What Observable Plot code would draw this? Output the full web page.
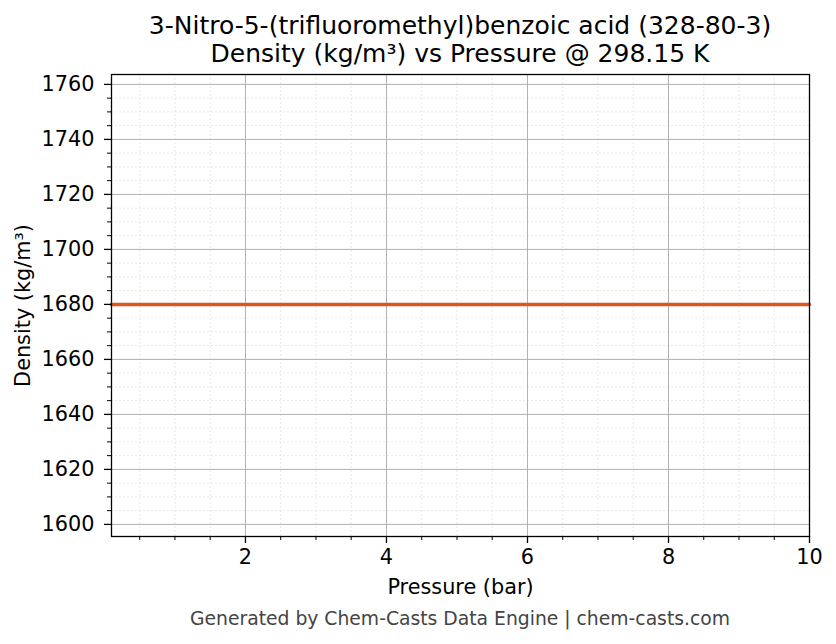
<!DOCTYPE html>
<html>
<head>
<meta charset="utf-8">
<script src="https://cdn.jsdelivr.net/npm/d3@7"></script>
<script src="https://cdn.jsdelivr.net/npm/@observablehq/plot@0.6"></script>
<style>
  html, body { margin: 0; padding: 0; background: #fff; }
  body { width: 836px; height: 644px; overflow: hidden; font-family: "DejaVu Sans", sans-serif; }
  #title { height: 70px; text-align: center; font-size: 25px; line-height: 28px; padding-top: 12px; box-sizing: border-box; color: #000; padding-left: 84px; }
  #caption { text-align: center; font-size: 18.75px; color: #444; padding-left: 84px; margin-top: 6px; }
  svg { display: block; }
</style>
</head>
<body>
<div id="title">3-Nitro-5-(trifluoromethyl)benzoic acid (328-80-3)<br>Density (kg/m³) vs Pressure @ 298.15 K</div>
<div id="chart"></div>
<div id="caption">Generated by Chem-Casts Data Engine | chem-casts.com</div>
<script>
const pressure = [0.1, 1, 2, 3, 4, 5, 6, 7, 8, 9, 10];
const density = [1680, 1680, 1680, 1680, 1680, 1680, 1680, 1680, 1680, 1680, 1680];
const xMajor = [2, 4, 6, 8, 10];
const xMinor = [0.5, 1, 1.5, 2.5, 3, 3.5, 4.5, 5, 5.5, 6.5, 7, 7.5, 8.5, 9, 9.5];
const yMajor = [1600, 1620, 1640, 1660, 1680, 1700, 1720, 1740, 1760];
const yMinor = [1605, 1610, 1615, 1625, 1630, 1635, 1645, 1650, 1655, 1665, 1670, 1675, 1685, 1690, 1695, 1705, 1710, 1715, 1725, 1730, 1735, 1745, 1750, 1755];
const xDomain = [0.1, 10];
const yDomain = [1595.6, 1763.6];

const data = pressure.map((p, i) => ({p, d: density[i]}));

const chart = Plot.plot({
  width: 836,
  height: 532,
  marginLeft: 111,
  marginRight: 27,
  marginTop: 4,
  marginBottom: 66,
  style: {fontFamily: "DejaVu Sans", fontSize: "20.8px", color: "#000", background: "#fff"},
  x: {domain: xDomain},
  y: {domain: yDomain},
  marks: [
    Plot.gridX(xMinor, {stroke: "#d8d8d8", strokeOpacity: 1, strokeWidth: 0.6, strokeDasharray: "2,2"}),
    Plot.gridY(yMinor, {stroke: "#d8d8d8", strokeOpacity: 1, strokeWidth: 0.6, strokeDasharray: "2,2"}),
    Plot.gridX(xMajor, {stroke: "#b0b0b0", strokeOpacity: 1, strokeWidth: 1}),
    Plot.gridY(yMajor, {stroke: "#b0b0b0", strokeOpacity: 1, strokeWidth: 1}),
    Plot.line(data, {x: "p", y: "d", stroke: "#df5520", strokeWidth: 3.5}),
    Plot.frame({stroke: "#000", strokeWidth: 1.3}),
    Plot.axisX(xMinor, {tickSize: 4, text: null, label: null, strokeWidth: 1}),
    Plot.axisY(yMinor, {tickSize: 4, text: null, label: null, strokeWidth: 1}),
    Plot.axisX(xMajor, {tickSize: 7, tickPadding: 6, fontSize: 20.8, strokeWidth: 1.3, tickFormat: d => String(d), label: "Pressure (bar)", labelAnchor: "center", labelArrow: "none", labelOffset: 57}),
    Plot.axisY(yMajor, {tickSize: 7, tickPadding: 10, fontSize: 20.8, strokeWidth: 1.3, tickFormat: d => String(d), label: "Density (kg/m³)", labelAnchor: "center", labelArrow: "none", labelOffset: 96})
  ]
});
document.getElementById("chart").appendChild(chart);
</script>
</body>
</html>
